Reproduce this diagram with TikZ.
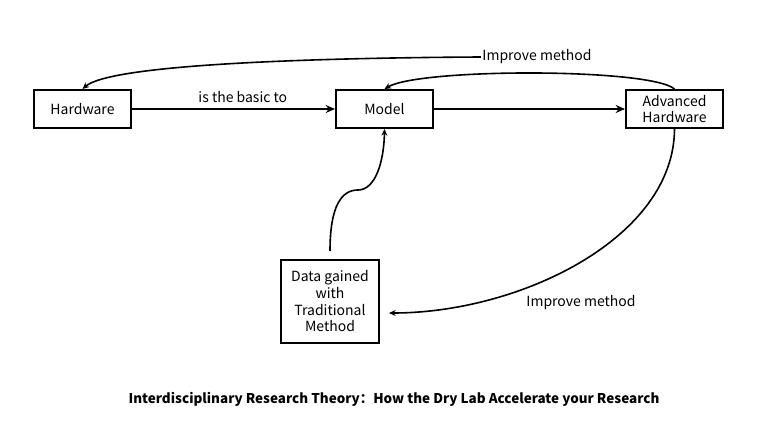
\documentclass[tikz,border=0pt]{standalone}
\usepackage{fontspec}
\setmainfont{Noto Sans CJK SC}
\usetikzlibrary{arrows.meta}
\tikzset{box/.style={draw, line width=1.5pt, minimum width=72.75pt, minimum height=28.5pt, inner sep=1pt, align=center}, flow/.style={line width=2.2pt, -{Stealth[length=7pt,width=6pt]}}, link/.style={line width=1.2pt, -{Stealth[length=5pt,width=4.5pt]}}, note/.style={inner sep=1pt}}
\begin{document}
\begin{tikzpicture}[x=0.75pt, y=-0.75pt, font=\fontsize{10.5}{12.5}\selectfont]
      \useasboundingbox (0,0) rectangle (775,421);
      \node [box] (hw) at (82.5,109) {Hardware};
      \node [box] (model) at (384.5,109) {Model};
      \node [box] (adv) at (674.5,109) {Advanced\\Hardware};
      \node [box, minimum width=73.5pt, minimum height=62.25pt] (data) at (330,301.5) {Data gained\\with\\Traditional\\Method};
      \node [note] (imptop) at (537,57) {Improve method};
      \node [note] (impbot) at (581,303) {Improve method};
      \coordinate (datain) at (389,313);
      \node [note, font=\fontsize{10.1}{12}\selectfont\bfseries] (title) at (394,399) {Interdisciplinary Research Theory：How the Dry Lab Accelerate your Research};
      \draw [flow] (hw.east) -- node [note, above=3pt, xshift=7pt] (basic) {is the basic to} (model.west);
      \draw [flow] (model.east) -- (adv.west);
      \draw [link] (imptop.west) .. controls (300,58) and (110,65) .. (hw.north);
      \draw [link] (adv.north) .. controls (650,68) and (420,68) .. (model.north);
      \draw [link, shorten <=6pt] (data.north) .. controls (330,205) and (342,190) .. (358,190) .. controls (376,190) and (384,160) .. (model.south);
      \draw [link] (adv.south) .. controls (674,238) and (520,313) .. (datain);
    \end{tikzpicture}
\end{document}
